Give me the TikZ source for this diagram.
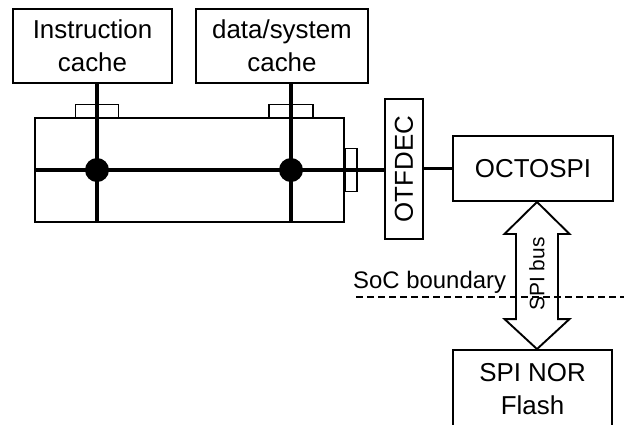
\documentclass[tikz,border=0pt]{standalone}
\usepackage{fontspec}
\setmainfont{Liberation Sans}
\usetikzlibrary{calc}

\tikzset{
	box/.style={draw, line width=1.9bp, inner sep=0pt, align=center, font=\fontsize{26}{33}\selectfont},
	tab/.style={draw, fill=white, line width=1.9bp, inner sep=0pt},
	busline/.style={line width=3.8bp},
	dot/.style={circle, fill=black, inner sep=0pt, minimum size=24bp},
	busarrow/.style={draw, line width=1.9bp, fill=white, line join=miter},
}

\begin{document}
\begin{tikzpicture}[x=1bp, y=-1bp]
			\useasboundingbox (0,0) rectangle (624,424);
			
			\node[box, minimum width=159bp, minimum height=74bp] (icache) at (92.5,46){Instruction\\cache};
			\node[box, minimum width=172bp, minimum height=74bp] (dcache) at (282,46){data/system\\cache};
			
			\node[box, minimum width=309bp, minimum height=104bp] (bus) at (189.5,170){};
			\node[tab, minimum width=43bp, minimum height=13bp] (itab) at (97,111){};
			\node[tab, minimum width=44bp, minimum height=13bp] (dtab) at (291,111){};
			\node[tab, minimum width=12bp, minimum height=43bp] (rtab) at (351,170){};
			
			\node[box, rotate=90, minimum width=140bp, minimum height=38bp] (otf) at (404,169){OTFDEC};
			\node[box, minimum width=160bp, minimum height=65bp] (octo) at (533,168.5){OCTOSPI};
			\node[box, minimum width=159bp, minimum height=78bp] (flash) at (532.5,389){SPI NOR\\Flash};
			
			% bus lines
			\draw[busline] (icache.south -| itab) -- (bus.south -| itab);
			\draw[busline] (dcache.south -| dtab) -- (bus.south -| dtab);
			\draw[busline] (bus.west) -- (bus.west -| otf.north);
			\draw[busline] (otf.south |- octo.west) -- (octo.west);
			\node[dot] (idot) at (itab |- bus.center){};
			\node[dot] (ddot) at (dtab |- bus.center){};
			
			% SPI bus arrow
			\coordinate (ax) at (537,0);
			\coordinate (T) at (octo.south -| ax);
			\coordinate (B) at (flash.north -| ax);
			\draw[busarrow] (T) -- ++(32.5,32) -- ++(-11.5,0) -- ($(B)+(21,-30)$) -- ++(11.5,0) -- (B)
				-- ++(-32.5,-30) -- ++(11.5,0) -- ($(T)+(-21,32)$) -- ++(-11.5,0) -- cycle;
			\node[rotate=90, font=\fontsize{21}{25}\selectfont] (spibus) at (537,274){SPI bus};
			
			% boundary
			\coordinate (socw) at (356,297);
			\coordinate (soce) at (624,297);
			\draw[line width=1.9bp, dash pattern=on 7bp off 4bp] (socw) -- (soce);
			\node[anchor=base west, inner sep=0pt, font=\fontsize{24}{28}\selectfont] (soc) at (353,288){SoC boundary};
			
		\end{tikzpicture}
\end{document}
